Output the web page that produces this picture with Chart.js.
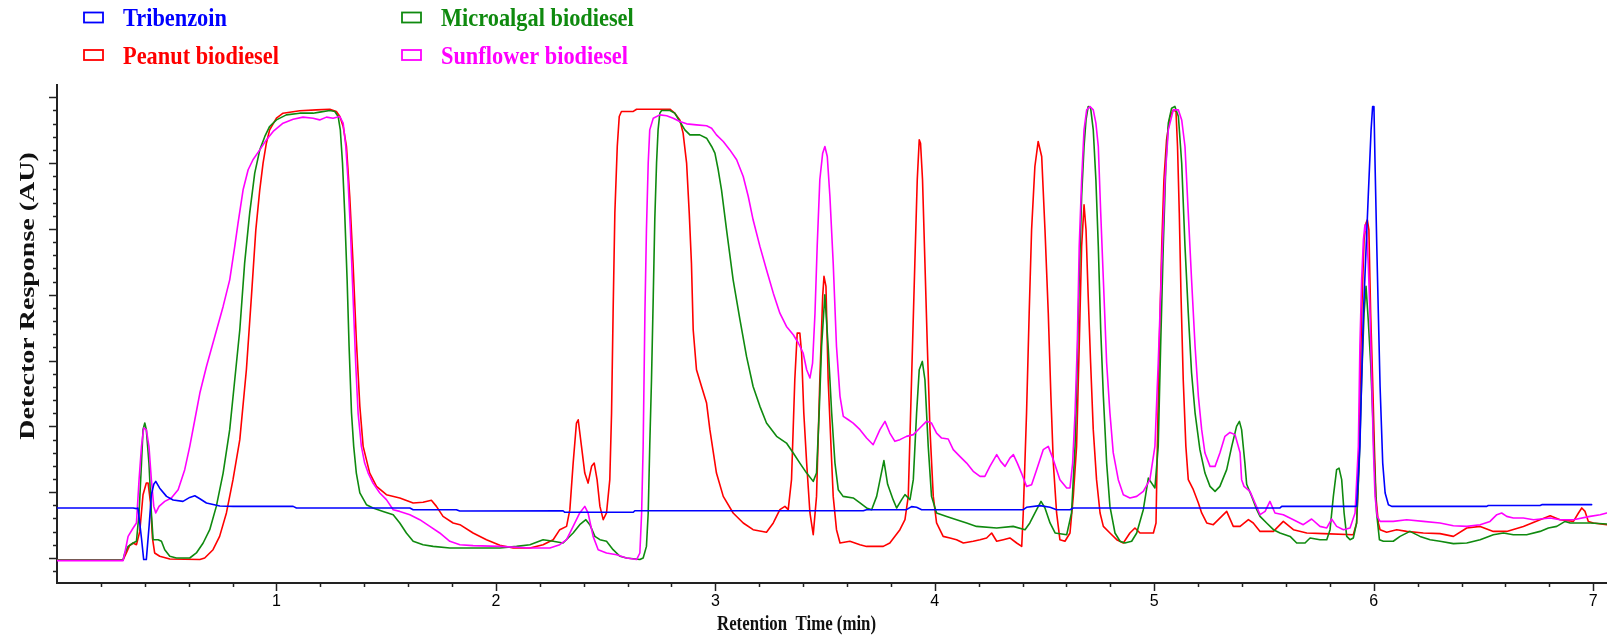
<!DOCTYPE html>
<html>
<head>
<meta charset="utf-8">
<script src="https://cdn.jsdelivr.net/npm/chart.js@4.4.1/dist/chart.umd.min.js"></script>
<style>
  html, body { margin: 0; padding: 0; background: #ffffff; }
  #c { display: block; }
</style>
</head>
<body>
<canvas id="c" width="1607" height="642"></canvas>
<script>
// ---------------- data (retention time in min, detector response in AU) ----------------
const seriesNames = ['Tribenzoin', 'Peanut biodiesel', 'Microalgal biodiesel', 'Sunflower biodiesel'];
const xTickLabels = [1, 2, 3, 4, 5, 6, 7];

const tribenzoin = [[0,3.80],[0.347,3.80],[0.362,3.75],[0.369,3.80],[0.385,1.5],[0.395,-0.12],[0.407,-0.12],[0.420,2.5],[0.430,4.8],[0.441,5.6],[0.450,5.82],[0.468,5.3],[0.499,4.68],[0.529,4.4],[0.574,4.30],[0.605,4.6],[0.628,4.73],[0.651,4.5],[0.681,4.18],[0.742,3.95],[0.803,3.92],[1.076,3.92],[1.091,3.80],[1.608,3.80],[1.623,3.67],[1.820,3.67],[1.835,3.57],[2.306,3.59],[2.314,3.47],[2.626,3.47],[2.633,3.59],[3.674,3.59],[3.689,3.67],[3.871,3.67],[3.894,3.9],[3.917,3.85],[3.940,3.67],[4.403,3.67],[4.418,3.85],[4.479,3.98],[4.525,3.85],[4.555,3.67],[4.616,3.67],[4.631,3.80],[5.573,3.80],[5.581,3.92],[5.922,3.92],[5.937,8.48],[5.953,18.6],[5.975,27.46],[5.988,32.52],[5.995,34.30],[6.001,34.30],[6.006,29.99],[6.014,23.67],[6.021,18.6],[6.029,13.03],[6.041,7.21],[6.052,4.94],[6.067,4.05],[6.082,3.92],[6.515,3.92],[6.522,3.99],[6.758,3.99],[6.766,4.05],[6.993,4.05]];

const peanut = [[0,-0.15],[0.301,-0.15],[0.316,0.38],[0.331,0.95],[0.347,1.14],[0.362,1.01],[0.377,2.0],[0.392,4.8],[0.407,5.7],[0.415,5.7],[0.426,4.2],[0.435,1.5],[0.445,0.38],[0.468,0.13],[0.514,-0.08],[0.651,-0.12],[0.673,0.0],[0.711,0.63],[0.741,1.64],[0.772,3.42],[0.802,5.95],[0.833,8.99],[0.863,14.3],[0.886,19.87],[0.906,24.93],[0.924,27.97],[0.939,29.99],[0.954,31.51],[0.969,32.52],[1.0,33.41],[1.03,33.79],[1.106,33.97],[1.182,34.04],[1.243,34.09],[1.273,33.92],[1.289,33.54],[1.304,32.78],[1.319,31.26],[1.334,27.46],[1.349,22.4],[1.364,16.58],[1.38,11.52],[1.395,8.48],[1.425,6.45],[1.456,5.44],[1.501,4.81],[1.562,4.56],[1.623,4.18],[1.668,4.23],[1.706,4.38],[1.729,3.92],[1.759,3.16],[1.805,2.66],[1.836,2.53],[1.896,1.9],[1.957,1.39],[2.018,0.97],[2.079,0.76],[2.155,0.76],[2.215,1.01],[2.261,1.39],[2.291,2.15],[2.322,2.4],[2.337,3.67],[2.352,7.21],[2.367,10.25],[2.375,10.5],[2.39,8.48],[2.405,6.45],[2.42,5.69],[2.436,6.96],[2.448,7.21],[2.461,5.95],[2.474,3.92],[2.489,2.91],[2.504,3.42],[2.519,5.95],[2.527,11.01],[2.534,18.6],[2.542,26.2],[2.553,31.26],[2.562,33.54],[2.572,33.92],[2.626,33.92],[2.641,34.09],[2.793,34.09],[2.815,33.79],[2.838,33.28],[2.853,32.27],[2.869,29.99],[2.881,26.2],[2.891,22.4],[2.899,17.34],[2.914,14.3],[2.937,13.03],[2.96,11.77],[2.975,9.75],[3.005,6.45],[3.036,4.68],[3.081,3.42],[3.127,2.66],[3.172,2.15],[3.233,1.95],[3.264,2.66],[3.294,3.67],[3.317,3.92],[3.332,3.67],[3.347,5.95],[3.362,13.54],[3.373,17.08],[3.385,17.08],[3.393,15.57],[3.403,11.01],[3.416,7.21],[3.431,3.42],[3.446,1.77],[3.461,4.68],[3.476,13.54],[3.489,19.87],[3.495,21.39],[3.504,20.63],[3.514,13.54],[3.527,8.48],[3.537,4.68],[3.552,2.15],[3.568,1.14],[3.613,1.27],[3.659,1.01],[3.689,0.88],[3.765,0.88],[3.795,1.14],[3.841,2.15],[3.864,2.91],[3.879,4.68],[3.894,13.54],[3.909,22.4],[3.92,28.73],[3.929,31.76],[3.935,31.51],[3.944,28.73],[3.955,22.4],[3.966,16.07],[3.978,9.75],[3.993,4.68],[4.008,2.66],[4.038,1.64],[4.069,1.52],[4.099,1.39],[4.13,1.14],[4.175,1.27],[4.206,1.39],[4.236,1.52],[4.259,1.9],[4.282,1.27],[4.312,1.39],[4.342,1.52],[4.373,1.14],[4.396,0.88],[4.403,3.42],[4.418,11.01],[4.43,18.6],[4.441,24.93],[4.456,29.74],[4.471,31.64],[4.487,30.5],[4.502,24.93],[4.517,18.6],[4.529,12.28],[4.54,7.21],[4.555,3.42],[4.57,1.39],[4.593,1.27],[4.616,1.9],[4.631,4.68],[4.646,8.48],[4.658,16.07],[4.669,23.67],[4.68,26.83],[4.689,24.93],[4.699,19.87],[4.71,14.81],[4.722,9.75],[4.737,5.95],[4.753,3.42],[4.768,2.4],[4.798,1.9],[4.829,1.39],[4.859,1.14],[4.889,1.9],[4.912,2.28],[4.935,1.9],[4.996,1.9],[5.008,2.66],[5.014,8.48],[5.023,16.07],[5.034,23.67],[5.044,28.73],[5.056,31.76],[5.072,33.54],[5.087,34.04],[5.099,33.92],[5.106,31.26],[5.114,26.2],[5.122,19.87],[5.132,13.54],[5.144,8.48],[5.155,5.95],[5.178,5.19],[5.201,4.18],[5.216,3.42],[5.239,2.66],[5.269,2.53],[5.292,2.91],[5.33,3.54],[5.36,2.4],[5.391,2.4],[5.429,2.91],[5.451,2.66],[5.482,2.02],[5.543,2.02],[5.588,2.78],[5.634,2.15],[5.695,1.9],[5.771,1.85],[5.907,1.77],[5.922,2.66],[5.93,5.95],[5.937,12.28],[5.945,18.6],[5.956,24.17],[5.965,25.44],[5.971,25.69],[5.978,24.93],[5.986,18.6],[5.995,13.54],[6.003,8.48],[6.01,4.68],[6.021,2.66],[6.029,2.15],[6.059,1.95],[6.105,2.15],[6.15,2.02],[6.226,1.9],[6.302,1.85],[6.363,1.64],[6.424,2.28],[6.485,2.4],[6.545,2.02],[6.606,2.02],[6.682,2.4],[6.758,2.91],[6.804,3.21],[6.849,2.91],[6.91,2.78],[6.933,3.42],[6.948,3.8],[6.963,3.54],[6.978,2.78],[7.001,2.66],[7.062,2.53]];

const microalgal = [[0,-0.15],[0.301,-0.15],[0.309,0.38],[0.324,0.88],[0.347,1.14],[0.362,1.27],[0.374,3.42],[0.385,7.21],[0.392,9.75],[0.4,10.25],[0.407,9.75],[0.419,7.21],[0.43,3.42],[0.438,1.39],[0.461,1.39],[0.476,1.27],[0.491,0.63],[0.514,0.13],[0.544,0.0],[0.605,0.0],[0.635,0.38],[0.666,1.14],[0.696,2.15],[0.726,3.92],[0.757,6.45],[0.787,9.75],[0.81,13.54],[0.833,17.34],[0.855,22.4],[0.878,26.2],[0.901,29.23],[0.924,31.0],[0.947,32.02],[0.969,32.78],[1.0,33.28],[1.045,33.66],[1.106,33.79],[1.167,33.79],[1.197,33.87],[1.243,33.99],[1.266,33.92],[1.281,33.54],[1.291,32.52],[1.301,29.99],[1.311,26.2],[1.322,21.13],[1.331,16.07],[1.342,11.01],[1.352,8.48],[1.364,6.45],[1.38,4.94],[1.41,4.05],[1.44,3.8],[1.486,3.54],[1.532,3.29],[1.562,2.66],[1.592,1.9],[1.623,1.27],[1.668,1.01],[1.714,0.88],[1.79,0.76],[2.018,0.76],[2.094,0.88],[2.155,1.01],[2.215,1.39],[2.261,1.27],[2.306,1.14],[2.352,1.9],[2.382,2.53],[2.41,2.91],[2.428,2.53],[2.451,1.64],[2.474,1.39],[2.504,1.27],[2.534,0.63],[2.565,0.13],[2.595,0.0],[2.656,-0.12],[2.671,0.0],[2.686,0.88],[2.694,3.42],[2.701,8.48],[2.709,13.54],[2.717,19.87],[2.724,25.69],[2.732,29.99],[2.739,32.52],[2.747,33.79],[2.755,33.99],[2.793,33.99],[2.815,33.79],[2.838,33.16],[2.861,32.52],[2.884,32.14],[2.929,32.14],[2.96,31.89],[2.983,31.26],[2.998,30.75],[3.013,29.49],[3.028,27.97],[3.051,24.93],[3.081,21.13],[3.112,18.1],[3.142,15.31],[3.172,13.03],[3.203,11.52],[3.233,10.25],[3.279,9.24],[3.324,8.73],[3.355,7.97],[3.385,7.21],[3.416,6.45],[3.446,5.82],[3.461,6.45],[3.473,11.01],[3.484,16.07],[3.499,20.0],[3.514,16.07],[3.53,11.01],[3.545,7.21],[3.56,5.19],[3.582,4.68],[3.628,4.56],[3.659,4.18],[3.689,3.8],[3.712,3.67],[3.735,4.68],[3.768,7.4],[3.785,5.6],[3.81,4.43],[3.826,3.8],[3.849,4.43],[3.864,4.81],[3.887,4.43],[3.902,5.95],[3.917,11.01],[3.929,14.3],[3.943,14.93],[3.955,13.54],[3.97,8.48],[3.985,4.68],[4.008,3.42],[4.054,3.16],[4.099,2.91],[4.145,2.66],[4.19,2.4],[4.282,2.28],[4.357,2.4],[4.411,2.15],[4.433,2.66],[4.464,3.67],[4.484,4.3],[4.502,3.8],[4.525,2.66],[4.548,1.9],[4.601,1.77],[4.623,3.42],[4.639,8.48],[4.649,14.81],[4.658,21.13],[4.669,27.46],[4.68,31.26],[4.689,33.28],[4.699,34.3],[4.71,34.17],[4.722,32.52],[4.734,28.73],[4.745,23.67],[4.756,17.34],[4.768,12.28],[4.783,7.21],[4.798,3.92],[4.821,1.9],[4.844,1.27],[4.866,1.14],[4.897,1.27],[4.92,1.9],[4.95,3.67],[4.973,6.07],[4.988,5.69],[5.003,5.32],[5.018,8.48],[5.029,16.07],[5.041,23.67],[5.053,29.99],[5.064,33.03],[5.079,34.17],[5.094,34.3],[5.11,33.54],[5.125,29.99],[5.14,23.67],[5.155,18.6],[5.17,14.05],[5.186,11.01],[5.208,8.23],[5.231,6.45],[5.254,5.44],[5.277,5.06],[5.299,5.44],[5.33,6.71],[5.353,8.48],[5.375,10.0],[5.388,10.38],[5.398,9.75],[5.413,7.21],[5.421,5.6],[5.444,4.68],[5.467,3.67],[5.482,3.16],[5.512,2.66],[5.543,2.15],[5.573,1.9],[5.619,1.64],[5.649,1.14],[5.687,1.14],[5.71,1.52],[5.755,1.39],[5.786,1.39],[5.801,2.15],[5.816,4.68],[5.831,6.71],[5.842,6.83],[5.854,5.95],[5.865,3.42],[5.877,1.64],[5.892,1.39],[5.907,1.52],[5.922,2.66],[5.934,7.21],[5.945,13.54],[5.956,18.6],[5.965,20.63],[5.975,18.1],[5.986,14.81],[5.995,11.01],[6.003,7.21],[6.013,3.42],[6.026,1.39],[6.044,1.27],[6.089,1.27],[6.12,1.64],[6.165,2.02],[6.211,1.64],[6.257,1.39],[6.302,1.27],[6.363,1.09],[6.424,1.14],[6.485,1.39],[6.545,1.77],[6.591,1.9],[6.636,1.77],[6.697,1.77],[6.758,2.02],[6.796,2.28],[6.834,2.4],[6.872,2.78],[6.895,2.66],[6.986,2.66],[7.062,2.58]];

const sunflower = [[0,-0.2],[0.301,-0.2],[0.309,0.38],[0.324,1.64],[0.347,2.28],[0.362,2.66],[0.374,5.95],[0.385,8.48],[0.395,9.87],[0.407,9.75],[0.419,8.48],[0.43,5.95],[0.441,3.92],[0.45,3.42],[0.465,3.92],[0.491,4.3],[0.521,4.56],[0.552,5.19],[0.582,6.71],[0.605,8.48],[0.628,10.5],[0.651,12.53],[0.681,14.55],[0.719,16.83],[0.757,19.11],[0.787,21.13],[0.81,23.67],[0.825,25.44],[0.848,27.97],[0.871,29.49],[0.893,30.25],[0.924,31.0],[0.954,31.76],[0.985,32.4],[1.03,33.03],[1.076,33.33],[1.121,33.49],[1.167,33.41],[1.197,33.28],[1.228,33.49],[1.258,33.41],[1.288,33.54],[1.304,33.03],[1.316,31.26],[1.326,28.73],[1.337,24.93],[1.349,19.87],[1.361,14.81],[1.372,11.01],[1.387,8.48],[1.402,7.21],[1.418,6.45],[1.44,5.69],[1.471,4.94],[1.501,4.43],[1.532,3.67],[1.562,3.54],[1.608,3.29],[1.653,2.91],[1.699,2.4],[1.744,1.9],[1.79,1.27],[1.836,1.01],[1.896,0.94],[2.018,0.88],[2.155,0.76],[2.246,0.76],[2.291,1.01],[2.322,1.39],[2.352,2.4],[2.382,3.42],[2.405,3.92],[2.42,3.42],[2.443,1.64],[2.466,0.63],[2.504,0.38],[2.55,0.25],[2.595,0.0],[2.641,-0.12],[2.656,0.38],[2.664,3.42],[2.671,8.48],[2.679,18.6],[2.686,24.93],[2.694,29.99],[2.701,32.52],[2.717,33.41],[2.747,33.66],[2.778,33.59],[2.808,33.41],[2.838,33.16],[2.869,32.98],[2.914,32.9],[2.96,32.83],[2.983,32.65],[3.005,32.14],[3.036,31.64],[3.066,31.0],[3.097,30.25],[3.127,28.98],[3.15,27.46],[3.172,25.69],[3.203,23.67],[3.233,21.89],[3.264,20.12],[3.294,18.6],[3.324,17.59],[3.355,16.96],[3.378,16.33],[3.4,15.57],[3.416,14.3],[3.431,13.67],[3.443,14.81],[3.454,18.6],[3.464,23.67],[3.476,28.73],[3.489,30.75],[3.499,31.26],[3.51,30.5],[3.522,27.46],[3.537,22.4],[3.552,16.07],[3.568,12.28],[3.583,10.76],[3.606,10.5],[3.628,10.25],[3.659,9.75],[3.689,9.11],[3.719,8.6],[3.75,9.75],[3.773,10.38],[3.795,9.49],[3.818,8.86],[3.841,8.99],[3.871,9.24],[3.902,9.37],[3.932,9.87],[3.962,10.38],[3.985,10.25],[4.008,9.49],[4.031,9.11],[4.061,9.04],[4.084,8.23],[4.114,7.72],[4.145,7.21],[4.175,6.58],[4.206,6.2],[4.228,6.2],[4.251,6.96],[4.282,7.85],[4.3,7.34],[4.32,6.96],[4.342,7.59],[4.358,7.85],[4.376,7.21],[4.395,6.45],[4.418,5.44],[4.441,5.57],[4.464,6.71],[4.494,8.23],[4.517,8.48],[4.54,7.47],[4.57,5.95],[4.601,5.32],[4.616,5.32],[4.628,7.21],[4.639,11.01],[4.649,16.07],[4.658,23.67],[4.669,28.73],[4.68,32.52],[4.692,34.04],[4.707,34.3],[4.722,34.04],[4.734,33.03],[4.745,31.26],[4.756,26.2],[4.768,21.13],[4.783,14.81],[4.798,11.01],[4.813,8.0],[4.836,5.95],[4.859,4.81],[4.889,4.56],[4.92,4.68],[4.95,5.06],[4.98,5.95],[5.003,8.48],[5.018,14.81],[5.034,22.4],[5.049,28.73],[5.064,32.52],[5.087,34.04],[5.11,34.04],[5.125,33.28],[5.14,31.26],[5.155,26.2],[5.17,21.13],[5.186,16.07],[5.201,12.28],[5.216,9.75],[5.231,7.97],[5.254,6.96],[5.277,6.96],[5.299,7.97],[5.322,9.24],[5.345,9.54],[5.368,9.37],[5.391,8.0],[5.398,5.95],[5.409,5.44],[5.436,5.06],[5.459,4.18],[5.482,3.29],[5.505,3.54],[5.527,4.3],[5.55,3.42],[5.588,3.29],[5.634,2.91],[5.679,2.53],[5.717,2.96],[5.755,2.4],[5.786,2.28],[5.808,2.96],[5.831,2.4],[5.862,2.15],[5.892,2.28],[5.915,3.42],[5.93,8.48],[5.937,16.07],[5.945,21.13],[5.953,24.17],[5.96,25.31],[5.968,24.68],[5.975,22.4],[5.983,18.6],[5.991,13.54],[5.998,8.48],[6.006,4.68],[6.016,3.16],[6.029,2.78],[6.089,2.78],[6.15,2.91],[6.226,2.78],[6.302,2.66],[6.363,2.45],[6.424,2.4],[6.485,2.53],[6.53,2.78],[6.561,3.29],[6.583,3.42],[6.606,3.16],[6.636,3.04],[6.682,3.04],[6.728,2.91],[6.804,3.04],[6.849,2.91],[6.91,2.91],[6.986,3.16],[7.032,3.29],[7.062,3.42]];

// ---------------- styling ----------------
const COLORS = { blue: '#0000ff', red: '#ff0000', green: '#0f8a0f', magenta: '#ff00ff' };
const SERIF = '"Liberation Serif", "Times New Roman", serif';
const SANS = '"Liberation Sans", Arial, sans-serif';

function toXY(arr) { return arr.map(p => ({ x: p[0], y: p[1] })); }

const datasets = [
  { label: seriesNames[0], data: toXY(tribenzoin), borderColor: COLORS.blue, order: 0 },
  { label: seriesNames[1], data: toXY(peanut), borderColor: COLORS.red, order: 3 },
  { label: seriesNames[2], data: toXY(microalgal), borderColor: COLORS.green, order: 2 },
  { label: seriesNames[3], data: toXY(sunflower), borderColor: COLORS.magenta, order: 1 }
];

function drawScaledText(ctx, text, x, y, font, color, sx, rotate) {
  ctx.save();
  ctx.font = font;
  ctx.fillStyle = color;
  ctx.textBaseline = 'alphabetic';
  ctx.textAlign = rotate ? 'center' : 'left';
  ctx.translate(x, y);
  ctx.scale(sx, 1);
  if (rotate) ctx.rotate(-Math.PI / 2);
  ctx.fillText(text, 0, 0);
  ctx.restore();
}

const decorPlugin = {
  id: 'decor',
  beforeDraw(chart) {
    const ctx = chart.ctx;
    ctx.save();
    ctx.fillStyle = '#ffffff';
    ctx.fillRect(0, 0, chart.width, chart.height);
    ctx.restore();
  },
  afterDraw(chart) {
    const ctx = chart.ctx;
    const xs = chart.scales.x, ys = chart.scales.y;
    const area = chart.chartArea;
    ctx.save();
    ctx.strokeStyle = '#222222';
    ctx.lineWidth = 1.5;
    // y ticks: minor every unit, major every 5
    for (let v = Math.ceil(ys.min); v <= Math.floor(ys.max); v++) {
      const py = Math.round(ys.getPixelForValue(v)) + 0.5;
      const len = (v % 5 === 0) ? 8 : 4;
      ctx.beginPath();
      ctx.moveTo(area.left - len, py);
      ctx.lineTo(area.left, py);
      ctx.stroke();
    }
    // x ticks: minor every 0.2 min, major every 1 min
    for (let i = 1; i * 0.2 <= xs.max + 1e-9; i++) {
      const t = i * 0.2;
      const px = Math.round(xs.getPixelForValue(t)) + 0.5;
      const len = (i % 5 === 0) ? 8 : 4;
      ctx.beginPath();
      ctx.moveTo(px, area.bottom);
      ctx.lineTo(px, area.bottom + len);
      ctx.stroke();
    }
    ctx.restore();

    // legend (two columns, outlined boxes)
    const legend = [
      { text: seriesNames[0], color: COLORS.blue, col: 0, row: 0 },
      { text: seriesNames[2], color: COLORS.green, col: 1, row: 0 },
      { text: seriesNames[1], color: COLORS.red, col: 0, row: 1 },
      { text: seriesNames[3], color: COLORS.magenta, col: 1, row: 1 }
    ];
    const colX = [84, 402], rowBase = [26, 63.5];
    legend.forEach(it => {
      const bx = colX[it.col], base = rowBase[it.row];
      ctx.save();
      ctx.strokeStyle = it.color;
      ctx.lineWidth = 1.8;
      ctx.fillStyle = '#ffffff';
      ctx.fillRect(bx, base - 13.5, 19, 10);
      ctx.strokeRect(bx, base - 13.5, 19, 10);
      ctx.restore();
      drawScaledText(ctx, it.text, bx + 39, base, 'bold 26px ' + SERIF, it.color, 0.86, false);
    });

    // axis titles
    drawScaledText(ctx, 'Retention  Time (min)', 717, 629.5, 'bold 22px ' + SERIF, '#111111', 0.765, false);
    drawScaledText(ctx, 'Detector Response (AU)', 34, 296, 'bold 28px ' + SERIF, '#111111', 0.77, true);
  }
};

new Chart(document.getElementById('c'), {
  type: 'line',
  data: { datasets: datasets.map(d => Object.assign({
    borderWidth: 1.6, pointRadius: 0, tension: 0, fill: false,
    borderJoinStyle: 'round', borderCapStyle: 'round'
  }, d)) },
  options: {
    responsive: false,
    animation: false,
    events: [],
    layout: { padding: { top: 85, left: 0, right: 0, bottom: 0 } },
    plugins: { legend: { display: false }, tooltip: { enabled: false }, title: { display: false } },
    scales: {
      x: {
        type: 'linear', min: 0, max: 7.063,
        grid: { display: false, drawTicks: false },
        border: { display: true, color: '#222222', width: 2 },
        ticks: { color: '#000000', font: { family: SANS, size: 16 }, padding: 9, maxRotation: 0, autoSkip: false },
        afterBuildTicks: s => { s.ticks = xTickLabels.map(v => ({ value: v })); },
        afterFit: s => { s.height = 59; }
      },
      y: {
        type: 'linear', min: -1.9, max: 35.93,
        grid: { display: false, drawTicks: false },
        border: { display: true, color: '#222222', width: 2 },
        ticks: { display: false },
        afterFit: s => { s.width = 57; }
      }
    }
  },
  plugins: [decorPlugin]
});
</script>
</body>
</html>
